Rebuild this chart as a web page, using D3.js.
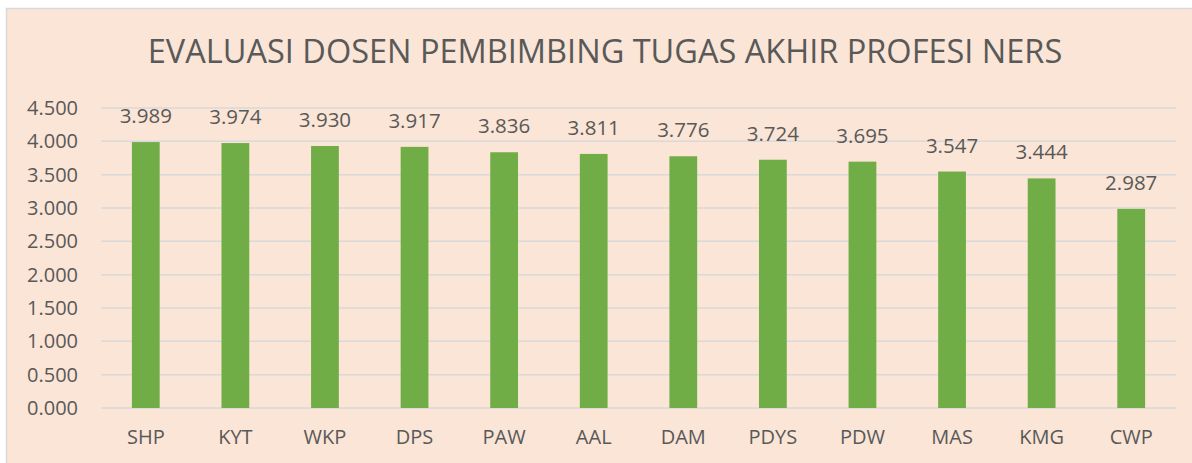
<!DOCTYPE html>
<meta charset="utf-8">
<head>
<style>
body { margin: 0; background: #fff; }
text { font-family: "Open Sans", "Noto Sans", sans-serif; fill: #595959; }
</style>
</head>
<body>
<svg id="chart" width="1192" height="463"></svg>
<script src="https://cdn.jsdelivr.net/npm/d3@7"></script>
<script>

var categories = ["SHP", "KYT", "WKP", "DPS", "PAW", "AAL", "DAM", "PDYS", "PDW", "MAS", "KMG", "CWP"];
var scores = [3.989, 3.974, 3.930, 3.917, 3.836, 3.811, 3.776, 3.724, 3.695, 3.547, 3.444, 2.987];
var yTicks = [0, 0.5, 1, 1.5, 2, 2.5, 3, 3.5, 4, 4.5];
var title = "EVALUASI DOSEN PEMBIMBING TUGAS AKHIR PROFESI NERS";

var svg = d3.select("#chart"),
    margin = {top: 108, right: 16, bottom: 55, left: 101},
    width = 1176 - margin.left,
    height = 408 - margin.top;

// chart area background + border
svg.append("rect")
    .attr("x", 6.5)
    .attr("y", 8.5)
    .attr("width", 1200)
    .attr("height", 470)
    .attr("fill", "#fbe5d6")
    .attr("stroke", "#d9d9d9")
    .attr("stroke-width", 1.5);

svg.append("text")
    .attr("x", 605)
    .attr("y", 63)
    .attr("text-anchor", "middle")
    .style("font-size", "32.5px")
    .text(title);

var g = svg.append("g").attr("transform", "translate(" + margin.left + "," + margin.top + ")");

var x = d3.scaleBand()
    .domain(categories)
    .range([0, width])
    .paddingInner(0.69)
    .paddingOuter(0.345);

var y = d3.scaleLinear()
    .domain([0, 4.5])
    .range([height, 0]);

// gridlines
g.selectAll(".grid")
    .data(yTicks)
  .enter().append("line")
    .attr("x1", 0)
    .attr("x2", width)
    .attr("y1", function(d) { return y(d); })
    .attr("y2", function(d) { return y(d); })
    .attr("stroke", "#d9d9d9")
    .attr("stroke-width", 1.5);

g.selectAll(".bar")
    .data(scores)
  .enter().append("rect")
    .attr("x", function(d, i) { return x(categories[i]); })
    .attr("y", function(d) { return y(d); })
    .attr("width", x.bandwidth())
    .attr("height", function(d) { return height - y(d); })
    .attr("fill", "#70ad47");

g.selectAll(".label")
    .data(scores)
  .enter().append("text")
    .attr("x", function(d, i) { return x(categories[i]) + x.bandwidth() / 2; })
    .attr("y", function(d) { return y(d) - 19; })
    .attr("text-anchor", "middle")
    .style("font-size", "20.5px")
    .text(function(d) { return d3.format(".3f")(d); });

var fmt = function(d) { return d3.format(".3f")(d); };

var yAxis = g.append("g")
    .call(d3.axisLeft(y).tickValues(yTicks).tickFormat(fmt).tickSize(0).tickPadding(23));
yAxis.select(".domain").remove();
yAxis.selectAll("text")
    .attr("fill", "#595959")
    .style("font-size", "20px")
    .style("font-family", "'Open Sans', sans-serif");

var xAxis = g.append("g")
    .attr("transform", "translate(0," + height + ")")
    .call(d3.axisBottom(x).tickSize(0).tickPadding(22));
xAxis.select(".domain").remove();
xAxis.selectAll("text")
    .attr("fill", "#595959")
    .style("font-size", "20px")
    .style("font-family", "'Open Sans', sans-serif");

</script>
</body>
</html>
